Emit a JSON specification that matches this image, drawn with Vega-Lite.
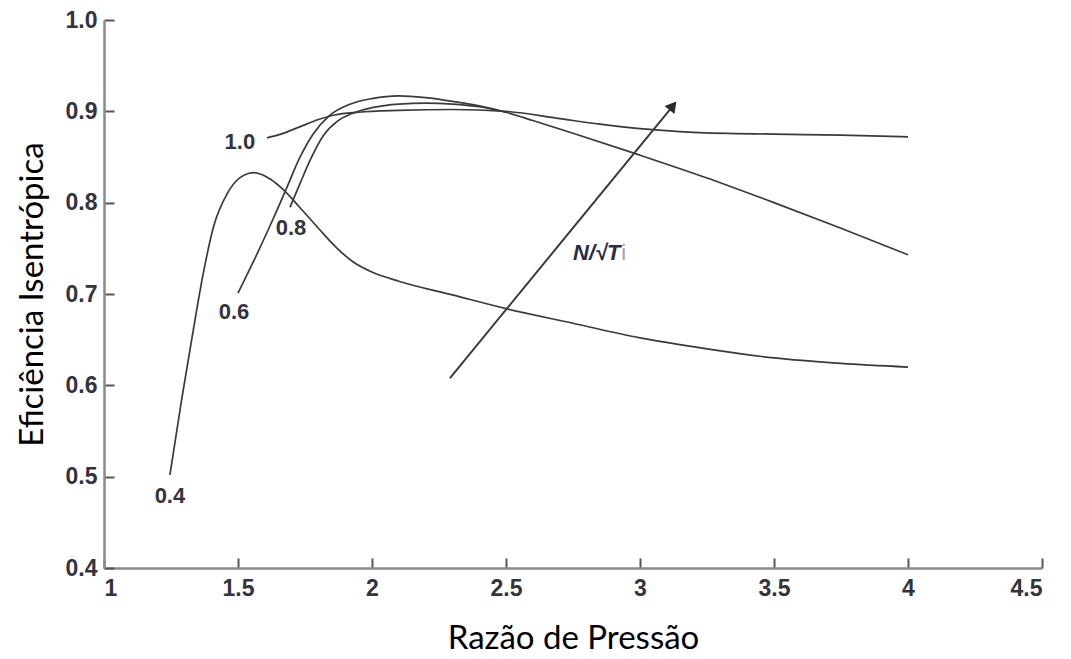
{
  "$schema": "https://vega.github.io/schema/vega-lite/v6.json",
  "width": 938,
  "height": 548,
  "autosize": {"type": "none"},
  "padding": {"left": 104, "top": 20, "right": 29, "bottom": 91},
  "background": "white",
  "config": {
    "view": {"stroke": null},
    "axis": {
      "grid": false,
      "domainColor": "#8a8a8a",
      "domainWidth": 2.5,
      "tickColor": "#555555",
      "tickWidth": 2,
      "tickSize": -10,
      "labelFont": "Liberation Sans",
      "labelFontWeight": "bold",
      "labelFontSize": 23,
      "labelColor": "#333340",
      "titleFont": "Lato",
      "titleFontWeight": "normal",
      "titleFontSize": 33,
      "titleColor": "#000000"
    }
  },
  "datasets": {
    "curves": [
      {"curve": "0.4", "x": 1.246, "y": 0.502},
      {"curve": "0.4", "x": 1.29, "y": 0.585},
      {"curve": "0.4", "x": 1.33, "y": 0.655},
      {"curve": "0.4", "x": 1.37, "y": 0.722},
      {"curve": "0.4", "x": 1.41, "y": 0.775},
      {"curve": "0.4", "x": 1.46, "y": 0.810},
      {"curve": "0.4", "x": 1.51, "y": 0.828},
      {"curve": "0.4", "x": 1.56, "y": 0.833},
      {"curve": "0.4", "x": 1.62, "y": 0.826},
      {"curve": "0.4", "x": 1.67, "y": 0.814},
      {"curve": "0.4", "x": 1.73, "y": 0.795},
      {"curve": "0.4", "x": 1.80, "y": 0.772},
      {"curve": "0.4", "x": 1.87, "y": 0.750},
      {"curve": "0.4", "x": 1.93, "y": 0.735},
      {"curve": "0.4", "x": 2.00, "y": 0.724},
      {"curve": "0.4", "x": 2.10, "y": 0.714},
      {"curve": "0.4", "x": 2.30, "y": 0.699},
      {"curve": "0.4", "x": 2.50, "y": 0.684},
      {"curve": "0.4", "x": 2.75, "y": 0.668},
      {"curve": "0.4", "x": 3.00, "y": 0.652},
      {"curve": "0.4", "x": 3.25, "y": 0.640},
      {"curve": "0.4", "x": 3.50, "y": 0.630},
      {"curve": "0.4", "x": 3.75, "y": 0.624},
      {"curve": "0.4", "x": 4.00, "y": 0.620},
      {"curve": "0.6", "x": 1.50, "y": 0.701},
      {"curve": "0.6", "x": 1.56, "y": 0.737},
      {"curve": "0.6", "x": 1.62, "y": 0.775},
      {"curve": "0.6", "x": 1.68, "y": 0.815},
      {"curve": "0.6", "x": 1.73, "y": 0.849},
      {"curve": "0.6", "x": 1.78, "y": 0.875},
      {"curve": "0.6", "x": 1.84, "y": 0.895},
      {"curve": "0.6", "x": 1.92, "y": 0.908},
      {"curve": "0.6", "x": 2.00, "y": 0.914},
      {"curve": "0.6", "x": 2.10, "y": 0.917},
      {"curve": "0.6", "x": 2.20, "y": 0.915},
      {"curve": "0.6", "x": 2.30, "y": 0.911},
      {"curve": "0.6", "x": 2.40, "y": 0.906},
      {"curve": "0.6", "x": 2.50, "y": 0.899},
      {"curve": "0.6", "x": 2.60, "y": 0.890},
      {"curve": "0.6", "x": 2.75, "y": 0.876},
      {"curve": "0.6", "x": 3.00, "y": 0.852},
      {"curve": "0.6", "x": 3.25, "y": 0.827},
      {"curve": "0.6", "x": 3.50, "y": 0.800},
      {"curve": "0.6", "x": 3.75, "y": 0.772},
      {"curve": "0.6", "x": 4.00, "y": 0.743},
      {"curve": "0.8", "x": 1.694, "y": 0.795},
      {"curve": "0.8", "x": 1.73, "y": 0.820},
      {"curve": "0.8", "x": 1.77, "y": 0.847},
      {"curve": "0.8", "x": 1.82, "y": 0.874},
      {"curve": "0.8", "x": 1.87, "y": 0.889},
      {"curve": "0.8", "x": 1.92, "y": 0.897},
      {"curve": "0.8", "x": 2.00, "y": 0.904},
      {"curve": "0.8", "x": 2.10, "y": 0.908},
      {"curve": "0.8", "x": 2.20, "y": 0.909},
      {"curve": "0.8", "x": 2.30, "y": 0.908},
      {"curve": "0.8", "x": 2.40, "y": 0.905},
      {"curve": "0.8", "x": 2.50, "y": 0.899},
      {"curve": "1.0", "x": 1.608, "y": 0.871},
      {"curve": "1.0", "x": 1.66, "y": 0.875},
      {"curve": "1.0", "x": 1.73, "y": 0.883},
      {"curve": "1.0", "x": 1.80, "y": 0.891},
      {"curve": "1.0", "x": 1.86, "y": 0.896},
      {"curve": "1.0", "x": 1.95, "y": 0.899},
      {"curve": "1.0", "x": 2.10, "y": 0.901},
      {"curve": "1.0", "x": 2.30, "y": 0.902},
      {"curve": "1.0", "x": 2.50, "y": 0.900},
      {"curve": "1.0", "x": 2.70, "y": 0.892},
      {"curve": "1.0", "x": 2.85, "y": 0.886},
      {"curve": "1.0", "x": 3.00, "y": 0.881},
      {"curve": "1.0", "x": 3.20, "y": 0.877},
      {"curve": "1.0", "x": 3.50, "y": 0.875},
      {"curve": "1.0", "x": 3.75, "y": 0.874},
      {"curve": "1.0", "x": 4.00, "y": 0.872}
    ],
    "labels": [
      {"text": "1.0", "x": 1.507, "y": 0.866},
      {"text": "0.8", "x": 1.698, "y": 0.772},
      {"text": "0.6", "x": 1.485, "y": 0.680},
      {"text": "0.4", "x": 1.246, "y": 0.479}
    ],
    "arrow": [
      {"x": 2.291, "y": 0.608, "x2": 3.123, "y2": 0.906}
    ],
    "note": [
      {"text": "N/√T", "x": 2.750, "y": 0.745}
    ],
    "note2": [
      {"text": "i", "x": 2.93, "y": 0.745}
    ]
  },
  "layer": [
    {
      "data": {"name": "curves"},
      "mark": {"type": "line", "interpolate": "monotone", "color": "#3a3a3a", "strokeWidth": 1.7},
      "encoding": {
        "x": {
          "field": "x", "type": "quantitative",
          "scale": {"domain": [1, 4.5], "nice": false, "zero": false},
          "axis": {"values": [1, 1.5, 2, 2.5, 3, 3.5, 4, 4.5], "format": "~g", "labelPadding": 19, "titleY": 54},
          "title": "Razão de Pressão"
        },
        "y": {
          "field": "y", "type": "quantitative",
          "scale": {"domain": [0.4, 1.0], "nice": false, "zero": false},
          "axis": {"values": [0.4, 0.5, 0.6, 0.7, 0.8, 0.9, 1.0], "format": ".1f", "labelPadding": 17, "titleX": -55},
          "title": "Eficiência Isentrópica"
        },
        "detail": {"field": "curve"}
      }
    },
    {
      "data": {"name": "labels"},
      "mark": {"type": "text", "font": "Liberation Sans", "fontWeight": "bold", "fontSize": 22, "color": "#333340"},
      "encoding": {
        "x": {"field": "x", "type": "quantitative", "title": "Razão de Pressão"},
        "y": {"field": "y", "type": "quantitative", "title": "Eficiência Isentrópica"},
        "text": {"field": "text"}
      }
    },
    {
      "data": {"name": "arrow"},
      "mark": {"type": "rule", "color": "#3a3a3a", "strokeWidth": 2},
      "encoding": {
        "x": {"field": "x", "type": "quantitative", "title": "Razão de Pressão"},
        "y": {"field": "y", "type": "quantitative", "title": "Eficiência Isentrópica"},
        "x2": {"field": "x2"},
        "y2": {"field": "y2"}
      }
    },
    {
      "data": {"name": "arrow"},
      "mark": {"type": "point", "shape": "triangle-up", "filled": true, "color": "#2a2a2a", "size": 160, "angle": 39.4, "opacity": 1},
      "encoding": {
        "x": {"field": "x2", "type": "quantitative", "title": "Razão de Pressão"},
        "y": {"field": "y2", "type": "quantitative", "title": "Eficiência Isentrópica"}
      }
    },
    {
      "data": {"name": "note"},
      "mark": {"type": "text", "align": "left", "font": "Liberation Sans", "fontWeight": "bold", "fontStyle": "italic", "fontSize": 22, "color": "#2c2c44"},
      "encoding": {
        "x": {"field": "x", "type": "quantitative", "title": "Razão de Pressão"},
        "y": {"field": "y", "type": "quantitative", "title": "Eficiência Isentrópica"},
        "text": {"field": "text"}
      }
    },
    {
      "data": {"name": "note2"},
      "mark": {"type": "text", "align": "left", "font": "Liberation Sans", "fontSize": 22, "color": "#a0a0a8"},
      "encoding": {
        "x": {"field": "x", "type": "quantitative", "title": "Razão de Pressão"},
        "y": {"field": "y", "type": "quantitative", "title": "Eficiência Isentrópica"},
        "text": {"field": "text"}
      }
    }
  ]
}
